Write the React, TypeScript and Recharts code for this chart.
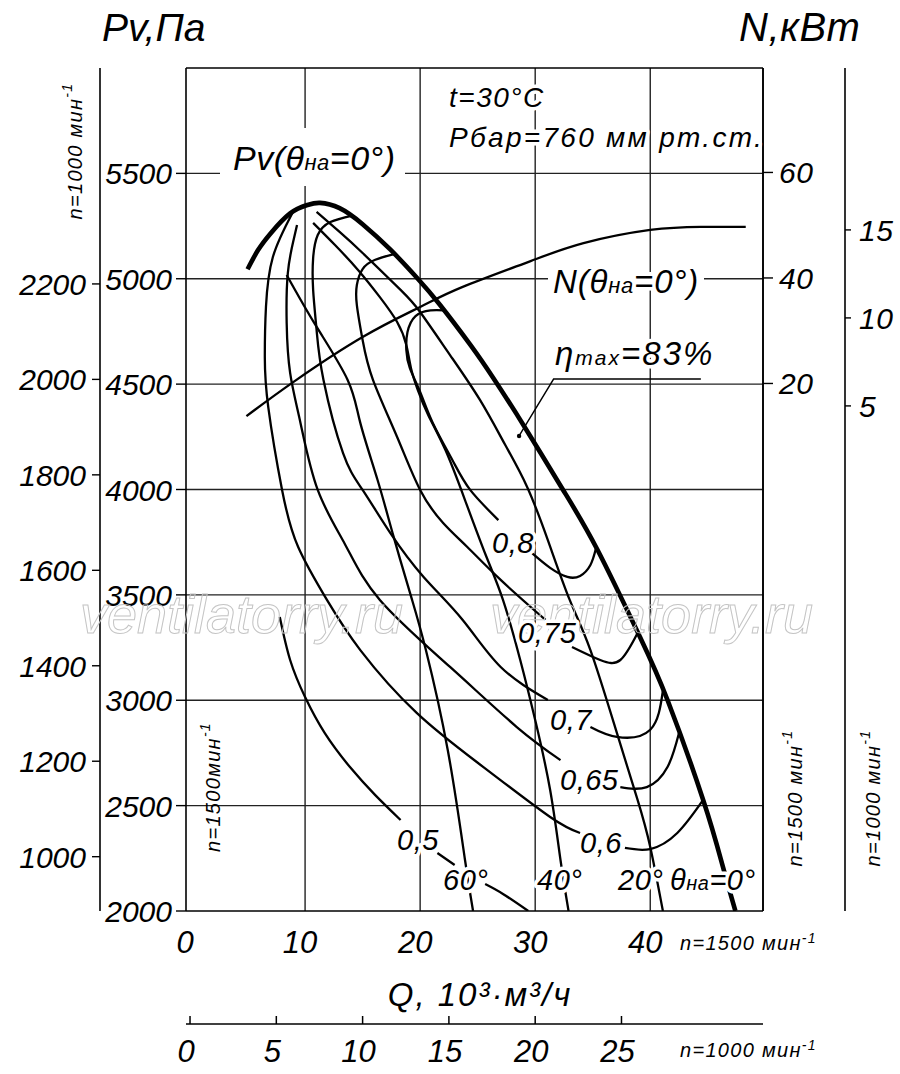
import React from 'react';
import { LineChart, Line, XAxis, YAxis, ReferenceLine, ReferenceDot } from 'recharts';

const FONT = "'Liberation Sans', Arial, 'DejaVu Sans', sans-serif";
const WM_FONT = "'Liberation Sans', Arial, sans-serif";

// ---- axes ----
const qTicks = [0, 10, 20, 30, 40];
const q1000Ticks = [0, 5, 10, 15, 20, 25];
const pvTicks = [2000, 2500, 3000, 3500, 4000, 4500, 5000, 5500];
const p1000Ticks = [1000, 1200, 1400, 1600, 1800, 2000, 2200];
const nTicks = [20, 40, 60];
const n1000Ticks = [5, 10, 15];
const gridQ = [10, 20, 30, 40];
const gridPv = [2500, 3000, 3500, 4000, 4500, 5000, 5500];

// ---- Pv (θна = 0°), thick envelope ----
const pv0Q = [5.0, 5.9, 7.0, 8.7, 10.2, 11.3, 13.0, 15.0, 17.4, 19.7, 21.7, 24.4, 26.3, 29.0, 32.4, 35.4, 39.1, 41.5, 44.6, 46.3, 47.4];
const pv0P = [5045, 5135, 5215, 5310, 5350, 5360, 5335, 5259, 5139, 5006, 4878, 4684, 4534, 4304, 4000, 3715, 3301, 3001, 2527, 2213, 2000];

// ---- N (θна = 0°), kW ----
const n0Q = [4.9, 9.0, 15.0, 20.0, 23.7, 29.6, 34.2, 40.0, 44.4, 48.3];
const n0N = [13.8, 20.3, 28.8, 34.5, 38.3, 43.2, 46.6, 49.1, 49.7, 49.7];

// ---- Pv for guide vane angles ----
const pv20Q = [11.0, 13.0, 15.0, 18.3, 20.0, 22.6, 25.2, 27.4, 29.3, 31.1, 33.0, 34.8, 37.1, 38.9, 40.0, 41.1];
const pv20P = [5317, 5222, 5122, 4947, 4842, 4638, 4425, 4211, 4012, 3760, 3476, 3238, 2845, 2527, 2304, 2000];
const pv40Q = [10.7, 12.6, 14.6, 16.5, 18.0, 18.8, 19.2, 19.8, 20.7, 22.2, 23.9, 25.7, 27.2, 28.7, 30.0, 31.3, 32.2, 32.9];
const pv40P = [5265, 5160, 5042, 4913, 4795, 4686, 4577, 4472, 4354, 4187, 3950, 3689, 3476, 3191, 2906, 2574, 2242, 2000];
const pv60Q = [8.4, 10.9, 13.7, 14.8, 16.3, 17.7, 19.3, 20.5, 22.4, 23.9, 24.6];
const pv60P = [5018, 4781, 4520, 4316, 4045, 3775, 3476, 3238, 2764, 2242, 2000];

// ---- efficiency contours (null = gap for the label) ----
const eta50Q = [7.8, 8.7, 10.0, 11.7, 13.9, 16.1, 18.3, 20.0, 21.5, 23.0, 24.3, 25.65, 27.2, 29.4];
const eta50P = [3395, 3191, 3015, 2845, 2683, 2550, 2432, null, 2275, 2218, null, 2128, 2081, 2000];
const eta60Q = [8.9, 7.2, 6.6, 6.5, 6.8, 8.0, 9.4, 11.9, 14.8, 19.7, 25.5, 31.3, 33.9, 35.9, 37.8, 40.0, 42.35, 44.6];
const eta60P = [5312, 5103, 4866, 4629, 4391, 3998, 3727, 3476, 3238, 2940, 2683, 2446, 2370, null, 2299, 2294, 2370, 2527];
const eta65Q = [9.3, 9.0, 8.5, 8.4, 8.7, 9.6, 11.1, 13.5, 16.5, 22.6, 28.4, 32.2, 35.0, 37.4, 39.7, 41.5, 42.5];
const eta65P = [5255, 5184, 5027, 4790, 4553, 4316, 3998, 3737, 3476, 3158, 2873, 2716, null, 2588, 2588, 2683, 2845];
const eta70Q = [14.1, 12.2, 11.1, 10.7, 10.7, 11.0, 11.6, 13.3, 15.0, 17.4, 20.3, 23.7, 27.0, 31.1, 33.0, 34.8, 37.1, 40.0, 41.1];
const eta70P = [5300, 5269, 5208, 5098, 4947, 4757, 4520, 4173, 3998, 3794, 3585, 3381, 3158, 3001, null, 2873, 2826, 2860, 3045];
const eta75Q = [17.8, 16.1, 15.0, 14.5, 14.5, 15.0, 15.9, 18.0, 20.0, 22.0, 24.1, 27.0, 30.9, 32.0, 33.2, 35.65, 37.4, 38.9];
const eta75P = [5118, 5090, 5046, 4970, 4875, 4709, 4520, 4249, 3998, 3841, 3727, 3571, 3381, null, 3253, 3191, 3191, 3319];
const eta80Q = [22.1, 20.9, 19.6, 18.9, 18.8, 19.1, 20.0, 21.1, 22.8, 24.35, 26.8, 28.0, 29.7, 31.3, 32.8, 33.9, 34.8, 35.3];
const eta80P = [4850, 4850, 4823, 4747, 4662, 4577, 4463, 4316, 4140, 3998, 3855, null, 3699, 3628, 3585, 3590, 3642, 3725];

// ---- ηmax leader ----
const leaderQ = [28.6, 31.6, 44.4];
const leaderP = [4254, 4524, 4524];

const zip = (qs: number[], vs: (number | null)[]) => qs.map((q, i) => ({ q, v: vs[i] }));

const txt = { fontFamily: FONT, fontStyle: 'italic' as const, fill: '#000' };

const QTick = (props: any) => {
  const { x, y, payload } = props;
  return (
    <text x={x - 5} y={y + 42} textAnchor="middle" fontSize={31} {...txt}>
      {payload.value}
    </text>
  );
};
const Q1000Tick = (props: any) => {
  const { x, y, payload } = props;
  return (
    <g>
      <line x1={x} y1={y} x2={x} y2={y - 8} stroke="#000" strokeWidth={1.5} />
      <text x={x - 4} y={y + 38} textAnchor="middle" fontSize={31} {...txt}>
        {payload.value}
      </text>
    </g>
  );
};
const LeftTick = (props: any) => {
  const { x, y, payload } = props;
  return (
    <text x={x} y={y + 11} textAnchor="end" fontSize={30} {...txt}>
      {payload.value}
    </text>
  );
};
const RightTick = (props: any) => {
  const { x, y, payload } = props;
  return (
    <text x={x} y={y + 11} textAnchor="start" fontSize={30} letterSpacing={0.5} {...txt}>
      {payload.value}
    </text>
  );
};

const halo = { stroke: '#fff', strokeWidth: 7, paintOrder: 'stroke' as const, strokeLinejoin: 'round' as const };

const T = ({ x, y, size = 30, children, h = true, anchor = 'start', ls = 0.5 }: any) => (
  <text x={x} y={y} fontSize={size} textAnchor={anchor} letterSpacing={ls} {...txt} {...(h ? halo : {})}>
    {children}
  </text>
);

const Rot = ({ cx, cy, label }: any) => (
  <text
    x={cx}
    y={cy}
    transform={`rotate(-90 ${cx} ${cy})`}
    textAnchor="middle"
    dominantBaseline="central"
    fontSize={20}
    letterSpacing={1.3}
    {...txt}
  >
    {label}
    <tspan fontSize={14} dy={-8}>-1</tspan>
  </text>
);

// y axis ids: "a_pv" (inner left, Pa @1500), "b_p1000" (outer left, Pa @1000),
// "n" (inner right, kW @1500), "n1000" (outer right, kW @1000)
const thin = { stroke: '#000', strokeWidth: 2.3, dot: false, isAnimationActive: false, type: 'natural' as const, xAxisId: 'q', yAxisId: 'a_pv', dataKey: 'v' };

export default function App() {
  return (
    <div style={{ position: 'absolute', left: 0, top: 0, width: 900, height: 1074, background: '#fff' }}>
      <LineChart width={900} height={1074} margin={{ top: 68, right: 0, bottom: 0, left: 14 }}>
        <XAxis
          xAxisId="q"
          type="number"
          dataKey="q"
          domain={[-0.35, 49.8]}
          allowDataOverflow
          ticks={qTicks}
          height={113}
          tickSize={0}
          tickMargin={0}
          tickLine={false}
          axisLine={{ stroke: '#000', strokeWidth: 1.6 }}
          tick={<QTick />}
        />
        <XAxis
          xAxisId="q1000"
          type="number"
          dataKey="q"
          domain={[-0.2333, 33.2]}
          allowDataOverflow
          ticks={q1000Ticks}
          height={50}
          tickSize={0}
          tickMargin={0}
          tickLine={false}
          axisLine={{ stroke: '#000', strokeWidth: 1.6 }}
          tick={<Q1000Tick />}
        />
        <YAxis
          yAxisId="a_pv"
          orientation="left"
          type="number"
          domain={[2000, 6000]}
          allowDataOverflow
          ticks={pvTicks}
          width={86}
          tickSize={10}
          tickMargin={4}
          tickLine={{ stroke: '#000', strokeWidth: 1.4 }}
          axisLine={{ stroke: '#000', strokeWidth: 1.6 }}
          tick={<LeftTick />}
        />
        <YAxis
          yAxisId="b_p1000"
          orientation="left"
          type="number"
          domain={[886.2, 2652.4]}
          allowDataOverflow
          ticks={p1000Ticks}
          width={86}
          tickSize={8}
          tickMargin={6}
          tickLine={{ stroke: '#000', strokeWidth: 1.4 }}
          axisLine={{ stroke: '#000', strokeWidth: 1.6 }}
          tick={<LeftTick />}
        />
        <YAxis
          yAxisId="n"
          orientation="right"
          type="number"
          domain={[-80, 79.8]}
          allowDataOverflow
          ticks={nTicks}
          width={82}
          tickSize={10}
          tickMargin={6}
          tickLine={{ stroke: '#000', strokeWidth: 1.4 }}
          axisLine={{ stroke: '#000', strokeWidth: 1.6 }}
          tick={<RightTick />}
        />
        <YAxis
          yAxisId="n1000"
          orientation="right"
          type="number"
          domain={[-23.7, 24.2]}
          allowDataOverflow
          ticks={n1000Ticks}
          width={55}
          tickSize={6}
          tickMargin={8}
          tickLine={{ stroke: '#000', strokeWidth: 1.4 }}
          axisLine={{ stroke: '#000', strokeWidth: 1.6 }}
          tick={<RightTick />}
        />

        {gridQ.map((q) => (
          <ReferenceLine key={'gq' + q} xAxisId="q" yAxisId="a_pv" x={q} stroke="#222" strokeWidth={1.4} />
        ))}
        {gridPv.map((p) => (
          <ReferenceLine key={'gp' + p} xAxisId="q" yAxisId="a_pv" y={p} stroke="#222" strokeWidth={1.4} />
        ))}
        <ReferenceLine xAxisId="q" yAxisId="a_pv" y={6000} stroke="#000" strokeWidth={1.6} />
        <ReferenceLine xAxisId="q" yAxisId="a_pv" x={49.8} stroke="#000" strokeWidth={1.6} />

        <Line {...thin} data={zip(pv20Q, pv20P)} />
        <Line {...thin} data={zip(pv40Q, pv40P)} />
        <Line {...thin} data={zip(pv60Q, pv60P)} />
        <Line {...thin} data={zip(eta50Q, eta50P)} />
        <Line {...thin} data={zip(eta60Q, eta60P)} />
        <Line {...thin} data={zip(eta65Q, eta65P)} />
        <Line {...thin} data={zip(eta70Q, eta70P)} />
        <Line {...thin} data={zip(eta75Q, eta75P)} />
        <Line {...thin} data={zip(eta80Q, eta80P)} />
        <Line {...thin} yAxisId="n" data={zip(n0Q, n0N)} />
        <Line {...thin} type="linear" strokeWidth={1.4} data={zip(leaderQ, leaderP)} />
        <Line {...thin} strokeWidth={4.6} data={zip(pv0Q, pv0P)} />
        <ReferenceDot xAxisId="q" yAxisId="a_pv" x={leaderQ[0]} y={leaderP[0]} r={2.2} fill="#000" stroke="none" />
      </LineChart>

      <svg width={900} height={1074} style={{ position: 'absolute', left: 0, top: 0, pointerEvents: 'none' }}>
        {/* watermark */}
        <text x={80} y={633} fontFamily={WM_FONT} fontStyle="italic" fontSize={54} fill="none" stroke="#c4c4c4" strokeWidth={1}>
          ventilatorry.ru
        </text>
        <text x={490} y={633} fontFamily={WM_FONT} fontStyle="italic" fontSize={54} fill="none" stroke="#c4c4c4" strokeWidth={1}>
          ventilatorry.ru
        </text>

        {/* axis titles */}
        <T x={102} y={41} size={39} h={false} ls={0}>Pv,Па</T>
        <T x={739} y={41} size={40} h={false} ls={0.5}>N,кВт</T>
        <T x={480} y={1006} size={33} h={false} anchor="middle" ls={2}>Q, 10³·м³/ч</T>

        {/* conditions */}
        <T x={449} y={107} size={28} ls={1.5}>t=30°C</T>
        <T x={449} y={147} size={28} ls={2.3}>Рбар=760 мм рт.ст.</T>

        {/* curve names */}
        <rect x={220} y={128} width={185} height={58} fill="#fff" />
        <T x={233} y={170} size={34} h={false} ls={0.5}>
          Pv(θ<tspan fontSize={22}>на</tspan>=0°)
        </T>
        <rect x={548} y={272} width={156} height={12} fill="#fff" />
        <T x={553} y={293} size={33} ls={0.8}>
          N(θ<tspan fontSize={22}>на</tspan>=0°)
        </T>
        <T x={555} y={365} size={33} ls={2}>
          η<tspan fontSize={21}>max</tspan>=83%
        </T>

        {/* efficiency labels */}
        <T x={492} y={553} size={29}>0,8</T>
        <T x={518} y={643} size={29}>0,75</T>
        <T x={550} y={730} size={29}>0,7</T>
        <T x={560} y={790} size={29}>0,65</T>
        <T x={580} y={853} size={29}>0,6</T>
        <T x={397} y={850} size={29}>0,5</T>

        {/* guide vane angle labels */}
        <T x={443} y={890} size={29}>60°</T>
        <T x={537} y={890} size={29}>40°</T>
        <T x={618} y={890} size={29}>20°</T>
        <T x={670} y={890} size={29}>
          θ<tspan fontSize={20}>на</tspan>=0°
        </T>

        {/* speed notes */}
        <Rot cx={75} cy={151} label="n=1000 мин" />
        <Rot cx={213} cy={787} label="n=1500мин" />
        <Rot cx={795} cy={798} label="n=1500 мин" />
        <Rot cx={873} cy={798} label="n=1000 мин" />
        <text x={680} y={950} fontSize={20} letterSpacing={1.3} {...txt}>
          n=1500 мин<tspan fontSize={14} dy={-7}>-1</tspan>
        </text>
        <text x={680} y={1057} fontSize={20} letterSpacing={1.3} {...txt}>
          n=1000 мин<tspan fontSize={14} dy={-7}>-1</tspan>
        </text>
      </svg>
    </div>
  );
}
